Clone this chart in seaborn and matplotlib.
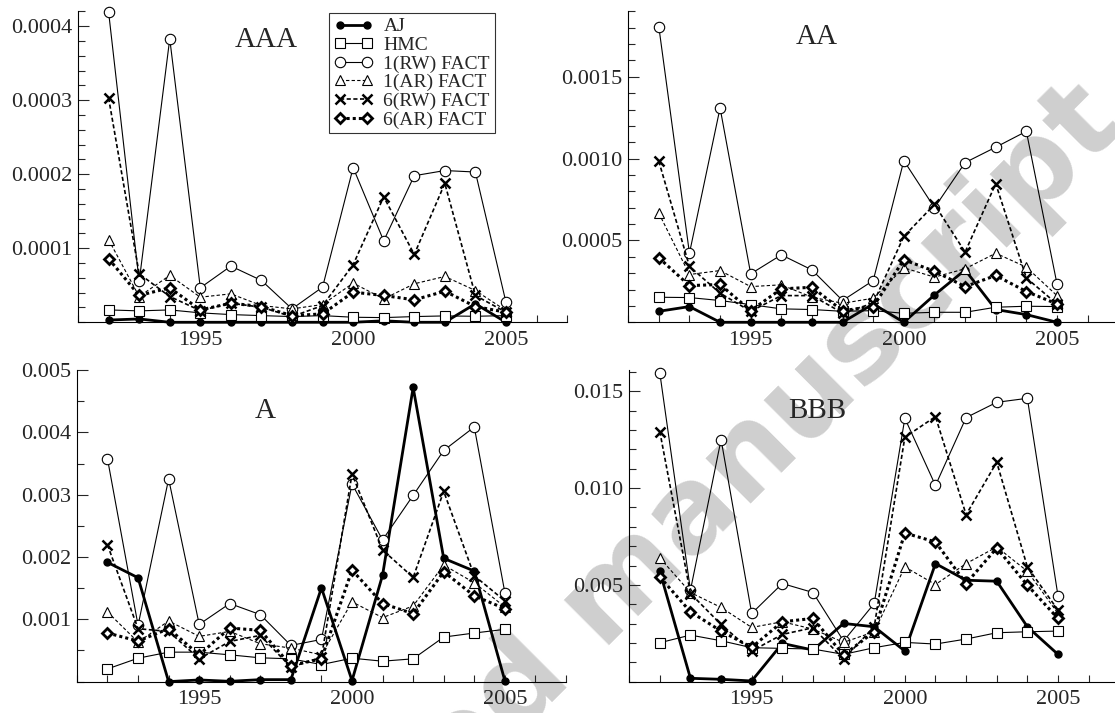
import numpy as np
import pandas as pd
import matplotlib
matplotlib.use('Agg')
import matplotlib.pyplot as plt
import matplotlib.ticker as mticker
import seaborn as sns

# years on the x axis
years = list(range(1992, 2006))

series_names = ['AJ', 'HMC', '1(RW) FACT', '1(AR) FACT', '6(RW) FACT', '6(AR) FACT']

# AAA rating class
aaa_aj = [3e-6, 4.5e-6, 0, 0, 0, 0, 0, 0, 0, 2e-6, 0, 0, 2.5e-5, 0]
aaa_hmc = [1.67e-5, 1.54e-5, 1.67e-5, 1.27e-5, 1.04e-5, 9.0e-6, 7.7e-6, 9.0e-6, 6.8e-6, 6.3e-6, 7.7e-6, 8.6e-6, 8.1e-6, 9.0e-6]
aaa_rw1 = [4.19e-4, 5.51e-5, 3.83e-4, 4.66e-5, 7.59e-5, 5.65e-5, 1.81e-5, 4.75e-5, 2.09e-4, 1.10e-4, 1.98e-4, 2.05e-4, 2.03e-4, 2.71e-5]
aaa_ar1 = [1.116e-4, 3.48e-5, 6.33e-5, 3.39e-5, 3.84e-5, 2.26e-5, 1.81e-5, 2.40e-5, 5.29e-5, 3.16e-5, 5.20e-5, 6.19e-5, 4.29e-5, 1.58e-5]
aaa_rw6 = [3.03e-4, 6.55e-5, 3.48e-5, 1.58e-5, 2.58e-5, 2.03e-5, 7.7e-6, 2.26e-5, 7.77e-5, 1.695e-4, 9.17e-5, 1.876e-4, 3.62e-5, 1.36e-5]
aaa_ar6 = [8.59e-5, 3.62e-5, 4.66e-5, 1.67e-5, 2.58e-5, 2.12e-5, 9.0e-6, 1.13e-5, 4.07e-5, 3.62e-5, 3.03e-5, 4.20e-5, 2.12e-5, 1.36e-5]

# AA rating class
aa_aj = [6.7e-5, 9.6e-5, 0, 0, 0, 0, 0, 1.12e-4, 0, 1.67e-4, 3.20e-4, 7.8e-5, 4.7e-5, 0]
aa_hmc = [1.53e-4, 1.51e-4, 1.33e-4, 1.08e-4, 8.2e-5, 7.8e-5, 6.7e-5, 7.1e-5, 5.5e-5, 6.1e-5, 6.1e-5, 9.2e-5, 9.8e-5, 9.6e-5]
aa_rw1 = [1.806e-3, 4.22e-4, 1.31e-3, 2.96e-4, 4.12e-4, 3.20e-4, 1.33e-4, 2.55e-4, 9.88e-4, 7.00e-4, 9.76e-4, 1.07e-3, 1.167e-3, 2.35e-4]
aa_ar1 = [6.67e-4, 2.92e-4, 3.16e-4, 2.18e-4, 2.29e-4, 1.53e-4, 1.16e-4, 1.47e-4, 3.33e-4, 2.76e-4, 3.27e-4, 4.22e-4, 3.37e-4, 1.63e-4]
aa_rw6 = [9.84e-4, 3.41e-4, 1.78e-4, 6.7e-5, 1.63e-4, 1.63e-4, 5.7e-5, 1.16e-4, 5.25e-4, 7.20e-4, 4.29e-4, 8.47e-4, 2.71e-4, 1.12e-4]
aa_ar6 = [3.94e-4, 2.24e-4, 2.31e-4, 7.1e-5, 2.04e-4, 2.14e-4, 7.1e-5, 9.6e-5, 3.82e-4, 3.12e-4, 2.18e-4, 2.86e-4, 1.88e-4, 1.12e-4]

# A rating class
a_aj = [1.914e-3, 1.667e-3, 0, 2.7e-5, 5e-6, 3.2e-5, 3.2e-5, 1.505e-3, 1.6e-5, 1.71e-3, 4.72e-3, 1.978e-3, 1.774e-3, 1.6e-5]
a_hmc = [2.04e-4, 3.76e-4, 4.73e-4, 4.73e-4, 4.30e-4, 3.82e-4, 3.66e-4, 2.74e-4, 3.76e-4, 3.28e-4, 3.66e-4, 7.15e-4, 7.80e-4, 8.39e-4]
a_rw1 = [3.575e-3, 9.03e-4, 3.253e-3, 9.19e-4, 1.253e-3, 1.075e-3, 5.81e-4, 6.77e-4, 3.172e-3, 2.274e-3, 2.989e-3, 3.71e-3, 4.086e-3, 1.43e-3]
a_ar1 = [1.118e-3, 6.34e-4, 9.73e-4, 7.26e-4, 8.06e-4, 6.08e-4, 5.38e-4, 4.30e-4, 1.28e-3, 1.027e-3, 1.215e-3, 1.871e-3, 1.586e-3, 1.199e-3]
a_rw6 = [2.194e-3, 8.49e-4, 8.06e-4, 3.66e-4, 6.45e-4, 7.42e-4, 2.31e-4, 3.92e-4, 3.333e-3, 2.113e-3, 1.672e-3, 3.054e-3, 1.699e-3, 1.296e-3]
a_ar6 = [7.80e-4, 6.51e-4, 8.49e-4, 4.30e-4, 8.60e-4, 8.23e-4, 2.58e-4, 3.66e-4, 1.79e-3, 1.253e-3, 1.091e-3, 1.763e-3, 1.376e-3, 1.172e-3]

# BBB rating class
bbb_aj = [5.70e-3, 1.72e-4, 1.20e-4, 3.4e-5, 1.976e-3, 1.632e-3, 3.007e-3, 2.835e-3, 1.581e-3, 6.10e-3, 5.24e-3, 5.189e-3, 2.835e-3, 1.409e-3]
bbb_hmc = [2.01e-3, 2.405e-3, 2.113e-3, 1.753e-3, 1.718e-3, 1.684e-3, 1.409e-3, 1.753e-3, 2.027e-3, 1.942e-3, 2.20e-3, 2.526e-3, 2.577e-3, 2.612e-3]
bbb_rw1 = [1.5945e-2, 4.725e-3, 1.2509e-2, 3.522e-3, 5.069e-3, 4.605e-3, 2.096e-3, 4.038e-3, 1.3608e-2, 1.0137e-2, 1.3643e-2, 1.4433e-2, 1.464e-2, 4.433e-3]
bbb_ar1 = [6.392e-3, 4.605e-3, 3.832e-3, 2.801e-3, 3.093e-3, 2.715e-3, 2.027e-3, 2.577e-3, 5.928e-3, 5.017e-3, 6.10e-3, 6.959e-3, 5.704e-3, 3.522e-3]
bbb_rw6 = [1.292e-2, 4.553e-3, 2.955e-3, 1.581e-3, 2.44e-3, 2.784e-3, 1.168e-3, 2.835e-3, 1.2629e-2, 1.3694e-2, 8.625e-3, 1.134e-2, 5.928e-3, 3.694e-3]
bbb_ar6 = [5.412e-3, 3.608e-3, 2.612e-3, 1.77e-3, 3.093e-3, 3.265e-3, 1.375e-3, 2.577e-3, 7.68e-3, 7.216e-3, 5.069e-3, 6.907e-3, 4.983e-3, 3.265e-3]

panels = {
    'AAA': [aaa_aj, aaa_hmc, aaa_rw1, aaa_ar1, aaa_rw6, aaa_ar6],
    'AA': [aa_aj, aa_hmc, aa_rw1, aa_ar1, aa_rw6, aa_ar6],
    'A': [a_aj, a_hmc, a_rw1, a_ar1, a_rw6, a_ar6],
    'BBB': [bbb_aj, bbb_hmc, bbb_rw1, bbb_ar1, bbb_rw6, bbb_ar6],
}

# build one long table
rows = []
for panel, values in panels.items():
    for name, vals in zip(series_names, values):
        for yr, v in zip(years, vals):
            rows.append((panel, name, yr, v))
df = pd.DataFrame(rows, columns=['rating', 'model', 'year', 'value'])

sns.set_style('ticks')
plt.rcParams['font.family'] = ['Liberation Serif', 'DejaVu Serif']

# line style for each model
styles = {
    'AJ': dict(linestyle='-', linewidth=2.0, marker='o', markersize=5,
               markerfacecolor='black', markeredgecolor='black', markeredgewidth=1),
    'HMC': dict(linestyle='-', linewidth=0.8, marker='s', markersize=7,
                markerfacecolor='white', markeredgecolor='black', markeredgewidth=0.8),
    '1(RW) FACT': dict(linestyle='-', linewidth=0.8, marker='o', markersize=7.5,
                       markerfacecolor='white', markeredgecolor='black', markeredgewidth=0.8),
    '1(AR) FACT': dict(linestyle=(0, (3, 2)), linewidth=0.8, marker='^', markersize=7,
                       markerfacecolor='white', markeredgecolor='black', markeredgewidth=0.8),
    '6(RW) FACT': dict(linestyle=(0, (2.5, 1.5)), linewidth=1.2, marker='x', markersize=6.5,
                       markerfacecolor='black', markeredgecolor='black', markeredgewidth=1.8),
    '6(AR) FACT': dict(linestyle=(0, (1, 1)), linewidth=2.2, marker='D', markersize=5,
                       markerfacecolor='white', markeredgecolor='black', markeredgewidth=2.0),
}

fig = plt.figure(figsize=(11.15, 7.13), dpi=100)

# panel placement, label format, y limits, tick steps, title position
layout = {
    'AAA': dict(rect=[0.070, 0.548, 0.4386, 0.436], ylim=0.00042, major=0.0001, minor=0.00002, fmt='{:.4f}', ty=0.909),
    'AA': dict(rect=[0.5634, 0.548, 0.4395, 0.436], ylim=0.0019, major=0.0005, minor=0.0001, fmt='{:.4f}', ty=0.918),
    'A': dict(rect=[0.069, 0.044, 0.4386, 0.437], ylim=0.005, major=0.001, minor=0.0005, fmt='{:.3f}', ty=0.87),
    'BBB': dict(rect=[0.5643, 0.044, 0.4395, 0.437], ylim=0.0161, major=0.005, minor=0.001, fmt='{:.3f}', ty=0.87),
}

for i, (panel, opts) in enumerate(layout.items()):
    ax = fig.add_axes(opts['rect'])
    ax.set_facecolor('none')
    ax.set_zorder(1)
    sub = df[df['rating'] == panel]
    for name in series_names:
        sns.lineplot(data=sub[sub['model'] == name], x='year', y='value', ax=ax,
                     color='black', errorbar=None, label=name if i == 0 else None,
                     legend=False, clip_on=False, **styles[name])

    ax.set_xlim(1991, 2007)
    ax.set_ylim(0, opts['ylim'])
    ax.set_xlabel('')
    ax.set_ylabel('')

    ax.xaxis.set_major_locator(mticker.FixedLocator([1995, 2000, 2005]))
    ax.xaxis.set_minor_locator(mticker.MultipleLocator(1))
    yt = np.arange(1, int(round(opts['ylim'] / opts['major'] + 0.5)) + 1) * opts['major']
    yt = yt[yt <= opts['ylim'] + 1e-12]
    ax.yaxis.set_major_locator(mticker.FixedLocator(yt))
    ax.yaxis.set_major_formatter(mticker.FixedFormatter([opts['fmt'].format(v) for v in yt]))
    ax.yaxis.set_minor_locator(mticker.MultipleLocator(opts['minor']))

    ax.tick_params(axis='both', which='both', direction='in', labelsize=16, width=0.8)
    ax.tick_params(axis='x', which='both', length=5, pad=6)
    ax.tick_params(axis='y', which='major', length=8, pad=4)
    ax.tick_params(axis='y', which='minor', length=5)
    sns.despine(ax=ax)
    for side in ['left', 'bottom']:
        ax.spines[side].set_linewidth(0.8)
        ax.spines[side].set_color('black')

    ax.text(1997.15, opts['ty'] * opts['ylim'], panel, fontsize=21, ha='center', va='center')

    if i == 0:
        leg = ax.legend(loc='upper left', bbox_to_anchor=(0.513, 0.995), borderaxespad=0,
                        numpoints=2, fontsize=14, handlelength=2.0, handletextpad=0.55,
                        labelspacing=0.05, borderpad=0.25, fancybox=False, frameon=True)
        leg.get_frame().set_edgecolor('black')
        leg.get_frame().set_linewidth(0.8)

# grey watermark across the page
fig.text(0.549, 0.163, 'Accepted manuscript', rotation=45, fontsize=84, fontweight='bold',
         color='#cfcfcf', ha='center', va='center', family='DejaVu Sans', zorder=-1)

fig.savefig('out.png', dpi=100)
